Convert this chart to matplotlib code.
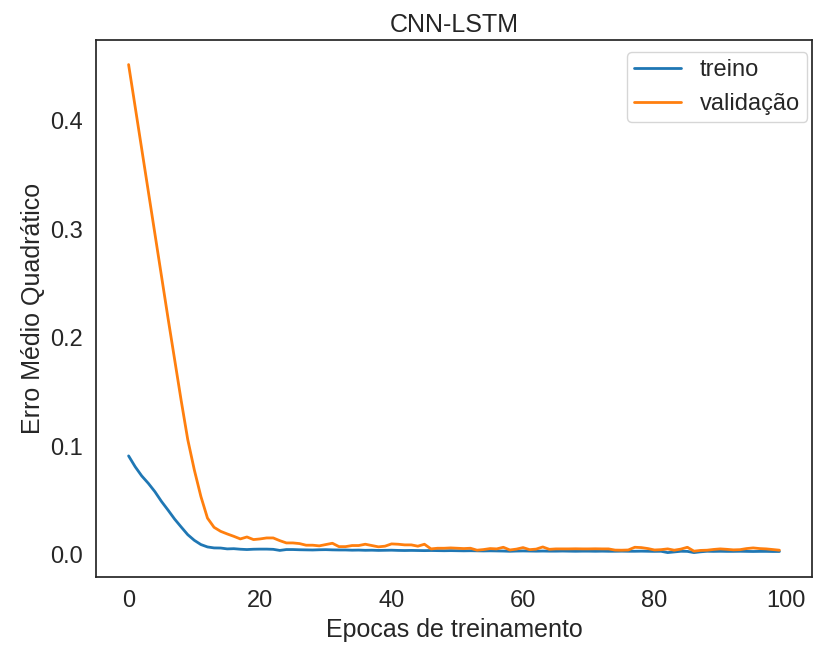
import matplotlib
matplotlib.use('Agg')
import matplotlib.pyplot as plt
import seaborn as sns
import numpy as np

# MSE per epoch
treino = [0.091, 0.081, 0.0725, 0.0657, 0.058, 0.049, 0.041, 0.0327, 0.0254, 0.0183,
          0.0131, 0.0092, 0.0070, 0.0061, 0.0060, 0.0052, 0.0054, 0.0049, 0.0046, 0.0049,
          0.0050, 0.0050, 0.0048, 0.0038, 0.0046, 0.0046, 0.0044, 0.0043, 0.0042, 0.0044,
          0.0045, 0.0043, 0.0042, 0.0042, 0.0040, 0.0041, 0.0039, 0.0040, 0.0038, 0.0039,
          0.0040, 0.0038, 0.0037, 0.0038, 0.0037, 0.0036, 0.0037, 0.0036, 0.0035, 0.0036,
          0.0035, 0.0034, 0.0035, 0.0034, 0.0033, 0.0034, 0.0033, 0.0032, 0.0030, 0.0032,
          0.0033, 0.0032, 0.0031, 0.0032, 0.0031, 0.0031, 0.0032, 0.0031, 0.0030, 0.0031,
          0.0031, 0.0030, 0.0031, 0.0030, 0.0030, 0.0031, 0.0030, 0.0030, 0.0031, 0.0030,
          0.0029, 0.0030, 0.0018, 0.0024, 0.0030, 0.0029, 0.0018, 0.0025, 0.0030, 0.0029,
          0.0030, 0.0029, 0.0029, 0.0030, 0.0029, 0.0028, 0.0029, 0.0029, 0.0028, 0.0028]

validacao = [0.452, 0.413, 0.374, 0.335, 0.296, 0.257, 0.218, 0.180, 0.142, 0.106,
             0.078, 0.0535, 0.0336, 0.0251, 0.0214, 0.019, 0.0168, 0.0144, 0.0162, 0.0138,
             0.0144, 0.0153, 0.0153, 0.0128, 0.0107, 0.0107, 0.0101, 0.0086, 0.0086, 0.0080,
             0.0092, 0.0104, 0.0073, 0.0073, 0.0083, 0.0083, 0.0095, 0.0083, 0.0071, 0.0077,
             0.0098, 0.0095, 0.0089, 0.0089, 0.0077, 0.0095, 0.0052, 0.0058, 0.0058, 0.0061,
             0.0058, 0.0055, 0.0058, 0.0040, 0.0046, 0.0055, 0.0052, 0.0067, 0.0042, 0.0050,
             0.0064, 0.0045, 0.0050, 0.0070, 0.0048, 0.0052, 0.0052, 0.0052, 0.0053, 0.0052,
             0.0052, 0.0053, 0.0052, 0.0052, 0.0041, 0.0040, 0.0042, 0.0067, 0.0064, 0.0055,
             0.0042, 0.0045, 0.0052, 0.0040, 0.0050, 0.0067, 0.0031, 0.0038, 0.0040, 0.0047,
             0.0052, 0.0048, 0.0043, 0.0045, 0.0055, 0.0061, 0.0055, 0.0052, 0.0046, 0.0040]

sns.set_theme(style='white', font_scale=1.5)
plt.rcParams['font.family'] = ['Liberation Sans', 'DejaVu Sans']

fig = plt.figure(figsize=(8.14, 6.48), dpi=100)
ax = fig.add_subplot(111)
fig.subplots_adjust(left=0.118, right=0.9975, top=0.938, bottom=0.1096)

ax.plot(treino, label='treino', color='#1f77b4', linewidth=2)
ax.plot(validacao, label='validação', color='#ff7f0e', linewidth=2)

ax.set_title('CNN-LSTM')
ax.set_xlabel('Epocas de treinamento')
ax.set_ylabel('Erro Médio Quadrático')
ax.tick_params(labelsize=17)
ax.legend(loc='upper right', bbox_to_anchor=(1.01, 1.0), fontsize=17, borderpad=0.3)

fig.savefig('out.png', dpi=100)
